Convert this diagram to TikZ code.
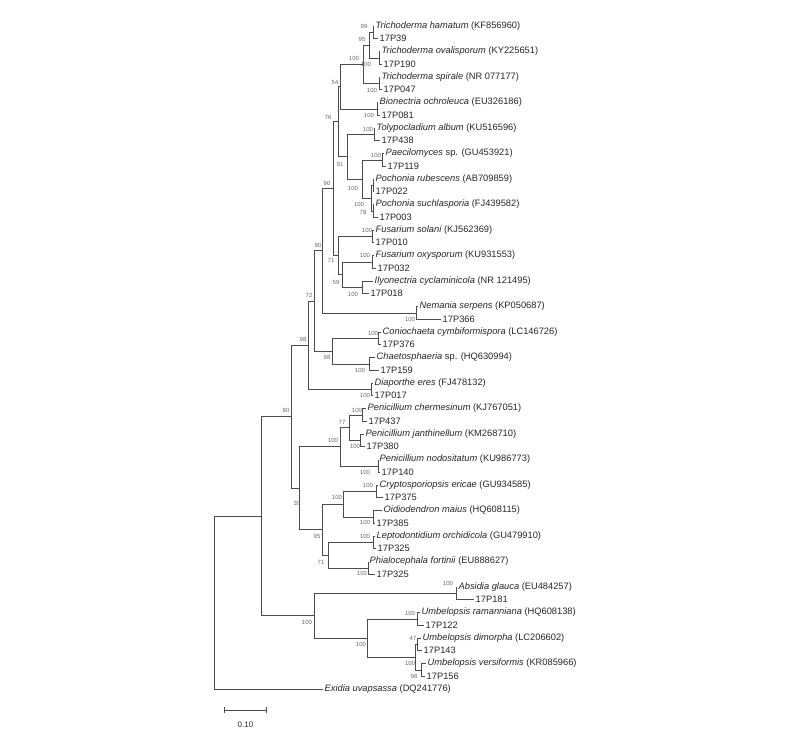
\documentclass[tikz,border=0pt]{standalone}
\usepackage{fontspec}
\setmainfont{Liberation Sans}
\begin{document}
\begin{tikzpicture}[x=1pt,y=-1pt,
  br/.style={draw=black!70,line width=0.7pt},
  leaf/.style={anchor=west,inner xsep=1.5pt,inner ysep=0pt,font=\fontsize{9.3}{10}\selectfont,text=black!85},
  bs/.style={inner sep=0pt,font=\fontsize{6}{7}\selectfont,text=black!60}]
\useasboundingbox (0,0) rectangle (800,744);
% internal coordinates
\coordinate (p1) at (373,32.4);
\coordinate (p2) at (379,57.9);
\coordinate (n95) at (369,45.1);
\coordinate (p3) at (379,83.4);
\coordinate (n100t) at (363,64.3);
\coordinate (p4) at (377,108.9);
\coordinate (n54) at (340,86.6);
\coordinate (p5) at (374,134.4);
\coordinate (p6) at (382,159.9);
\coordinate (p7) at (373,185.4);
\coordinate (p8) at (373,210.9);
\coordinate (n78) at (371,198.1);
\coordinate (nY) at (362,179);
\coordinate (n91) at (347,156.7);
\coordinate (n76) at (338,121.7);
\coordinate (p9) at (372,236.4);
\coordinate (p10) at (372,261.9);
\coordinate (p11) at (362,287.4);
\coordinate (n59) at (342,274.6);
\coordinate (n71) at (338,255.5);
\coordinate (n90a) at (333,188.6);
\coordinate (p12) at (416,312.9);
\coordinate (n90b) at (322,250.7);
\coordinate (p13) at (378,338.4);
\coordinate (p14) at (369,363.9);
\coordinate (n98c) at (332,351.1);
\coordinate (n72) at (314,300.9);
\coordinate (p15) at (371,389.4);
\coordinate (n98b) at (308,345.1);
\coordinate (p16) at (362,414.9);
\coordinate (p17) at (360,440.4);
\coordinate (n77) at (349,427.6);
\coordinate (p18) at (378,465.9);
\coordinate (nPen) at (340,446.8);
\coordinate (p19) at (376,491.4);
\coordinate (p20) at (373,516.9);
\coordinate (nCO) at (343,504.1);
\coordinate (p21) at (373,542.4);
\coordinate (p22) at (368,567.9);
\coordinate (n71b) at (328,555.1);
\coordinate (n95b) at (322,529.6);
\coordinate (n39) at (299,488.2);
\coordinate (n80) at (291,416.7);
\coordinate (p23) at (456,593.4);
\coordinate (p24) at (417,618.9);
\coordinate (p25) at (417,644.4);
\coordinate (p26) at (421,669.9);
\coordinate (nD) at (415,657.1);
\coordinate (nU) at (367,638);
\coordinate (nZ) at (314,615.7);
\coordinate (nB) at (261,516.2);
\coordinate (root) at (214,602.6);
% leaves
\node[leaf] (l0) at (374,26) {\textit{Trichoderma hamatum} (KF856960)};
\node[leaf] (l1) at (378,38.75) {17P39};
\node[leaf] (l2) at (380,51.5) {\textit{Trichoderma ovalisporum} (KY225651)};
\node[leaf] (l3) at (382,64.25) {17P190};
\node[leaf] (l4) at (380,77) {\textit{Trichoderma spirale} (NR 077177)};
\node[leaf] (l5) at (382,89.75) {17P047};
\node[leaf] (l6) at (378,102.5) {\textit{Bionectria ochroleuca} (EU326186)};
\node[leaf] (l7) at (380,115.25) {17P081};
\node[leaf] (l8) at (375,128) {\textit{Tolypocladium album} (KU516596)};
\node[leaf] (l9) at (380,140.75) {17P438};
\node[leaf] (l10) at (384,153.5) {\textit{Paecilomyces} sp. (GU453921)};
\node[leaf] (l11) at (386,166.25) {17P119};
\node[leaf] (l12) at (374,179) {\textit{Pochonia rubescens} (AB709859)};
\node[leaf] (l13) at (374,191.75) {17P022};
\node[leaf] (l14) at (374,204.5) {\textit{Pochonia suchlasporia} (FJ439582)};
\node[leaf] (l15) at (378,217.25) {17P003};
\node[leaf] (l16) at (374,230) {\textit{Fusarium solani} (KJ562369)};
\node[leaf] (l17) at (374,242.75) {17P010};
\node[leaf] (l18) at (374,255.5) {\textit{Fusarium oxysporum} (KU931553)};
\node[leaf] (l19) at (376,268.25) {17P032};
\node[leaf] (l20) at (373,281) {\textit{Ilyonectria cyclaminicola} (NR 121495)};
\node[leaf] (l21) at (369,293.75) {17P018};
\node[leaf] (l22) at (418,306.5) {\textit{Nemania serpens} (KP050687)};
\node[leaf] (l23) at (441,319.25) {17P366};
\node[leaf] (l24) at (381,332) {\textit{Coniochaeta cymbiformispora} (LC146726)};
\node[leaf] (l25) at (381,344.75) {17P376};
\node[leaf] (l26) at (375,357.5) {\textit{Chaetosphaeria} sp. (HQ630994)};
\node[leaf] (l27) at (379,370.25) {17P159};
\node[leaf] (l28) at (373,383) {\textit{Diaporthe eres} (FJ478132)};
\node[leaf] (l29) at (373,395.75) {17P017};
\node[leaf] (l30) at (366,408.5) {\textit{Penicillium chermesinum} (KJ767051)};
\node[leaf] (l31) at (367,421.25) {17P437};
\node[leaf] (l32) at (364,434) {\textit{Penicillium janthinellum} (KM268710)};
\node[leaf] (l33) at (365,446.75) {17P380};
\node[leaf] (l34) at (378,459.5) {\textit{Penicillium nodositatum} (KU986773)};
\node[leaf] (l35) at (380,472.25) {17P140};
\node[leaf] (l36) at (378,485) {\textit{Cryptosporiopsis ericae} (GU934585)};
\node[leaf] (l37) at (383,497.75) {17P375};
\node[leaf] (l38) at (382,510.5) {\textit{Oidiodendron maius} (HQ608115)};
\node[leaf] (l39) at (375,523.25) {17P385};
\node[leaf] (l40) at (375,536) {\textit{Leptodontidium orchidicola} (GU479910)};
\node[leaf] (l41) at (376,548.75) {17P325};
\node[leaf] (l42) at (368,561.5) {\textit{Phialocephala fortinii} (EU888627)};
\node[leaf] (l43) at (375,574.25) {17P325};
\node[leaf] (l44) at (457,587) {\textit{Absidia glauca} (EU484257)};
\node[leaf] (l45) at (474,599.75) {17P181};
\node[leaf] (l46) at (420,612.5) {\textit{Umbelopsis ramanniana} (HQ608138)};
\node[leaf] (l47) at (424,625.25) {17P122};
\node[leaf] (l48) at (421,638) {\textit{Umbelopsis dimorpha} (LC206602)};
\node[leaf] (l49) at (422,650.75) {17P143};
\node[leaf] (l50) at (426,663.5) {\textit{Umbelopsis versiformis} (KR085966)};
\node[leaf] (l51) at (425,676.25) {17P156};
\node[leaf] (l52) at (323,689) {\textit{Exidia uvapsassa} (DQ241776)};
% branches
\draw[br] (p1) |- (l0.west) (p1) |- (l1.west);
\draw[br] (p2) |- (l2.west) (p2) |- (l3.west);
\draw[br] (n95) |- (p1) (n95) |- (p2);
\draw[br] (p3) |- (l4.west) (p3) |- (l5.west);
\draw[br] (n100t) |- (n95) (n100t) |- (p3);
\draw[br] (p4) |- (l6.west) (p4) |- (l7.west);
\draw[br] (n54) |- (n100t) (n54) |- (p4);
\draw[br] (p5) |- (l8.west) (p5) |- (l9.west);
\draw[br] (p6) |- (l10.west) (p6) |- (l11.west);
\draw[br] (p7) |- (l12.west) (p7) |- (l13.west);
\draw[br] (p8) |- (l14.west) (p8) |- (l15.west);
\draw[br] (n78) |- (p7) (n78) |- (p8);
\draw[br] (nY) |- (p6) (nY) |- (n78);
\draw[br] (n91) |- (p5) (n91) |- (nY);
\draw[br] (n76) |- (n54) (n76) |- (n91);
\draw[br] (p9) |- (l16.west) (p9) |- (l17.west);
\draw[br] (p10) |- (l18.west) (p10) |- (l19.west);
\draw[br] (p11) |- (l20.west) (p11) |- (l21.west);
\draw[br] (n59) |- (p10) (n59) |- (p11);
\draw[br] (n71) |- (p9) (n71) |- (n59);
\draw[br] (n90a) |- (n76) (n90a) |- (n71);
\draw[br] (p12) |- (l22.west) (p12) |- (l23.west);
\draw[br] (n90b) |- (n90a) (n90b) |- (p12);
\draw[br] (p13) |- (l24.west) (p13) |- (l25.west);
\draw[br] (p14) |- (l26.west) (p14) |- (l27.west);
\draw[br] (n98c) |- (p13) (n98c) |- (p14);
\draw[br] (n72) |- (n90b) (n72) |- (n98c);
\draw[br] (p15) |- (l28.west) (p15) |- (l29.west);
\draw[br] (n98b) |- (n72) (n98b) |- (p15);
\draw[br] (p16) |- (l30.west) (p16) |- (l31.west);
\draw[br] (p17) |- (l32.west) (p17) |- (l33.west);
\draw[br] (n77) |- (p16) (n77) |- (p17);
\draw[br] (p18) |- (l34.west) (p18) |- (l35.west);
\draw[br] (nPen) |- (n77) (nPen) |- (p18);
\draw[br] (p19) |- (l36.west) (p19) |- (l37.west);
\draw[br] (p20) |- (l38.west) (p20) |- (l39.west);
\draw[br] (nCO) |- (p19) (nCO) |- (p20);
\draw[br] (p21) |- (l40.west) (p21) |- (l41.west);
\draw[br] (p22) |- (l42.west) (p22) |- (l43.west);
\draw[br] (n71b) |- (p21) (n71b) |- (p22);
\draw[br] (n95b) |- (nCO) (n95b) |- (n71b);
\draw[br] (n39) |- (nPen) (n39) |- (n95b);
\draw[br] (n80) |- (n98b) (n80) |- (n39);
\draw[br] (p23) |- (l44.west) (p23) |- (l45.west);
\draw[br] (p24) |- (l46.west) (p24) |- (l47.west);
\draw[br] (p25) |- (l48.west) (p25) |- (l49.west);
\draw[br] (p26) |- (l50.west) (p26) |- (l51.west);
\draw[br] (nD) |- (p25) (nD) |- (p26);
\draw[br] (nU) |- (p24) (nU) |- (nD);
\draw[br] (nZ) |- (p23) (nZ) |- (nU);
\draw[br] (nB) |- (n80) (nB) |- (nZ);
\draw[br] (root) |- (nB) (root) |- (l52.west);
% bootstrap values
\node[bs] (b1) at (364,26.5) {99};
\node[bs] (b2) at (362,39) {95};
\node[bs] (b3) at (366,64) {100};
\node[bs] (b4) at (354,58) {100};
\node[bs] (b5) at (372,90) {100};
\node[bs] (b6) at (335,82) {54};
\node[bs] (b7) at (369,115) {100};
\node[bs] (b8) at (368,129) {100};
\node[bs] (b9) at (376,155) {100};
\node[bs] (b10) at (353,188) {100};
\node[bs] (b11) at (359,204) {100};
\node[bs] (b12) at (363,212) {78};
\node[bs] (b13) at (340,164) {91};
\node[bs] (b14) at (328,117) {76};
\node[bs] (b15) at (367,230) {100};
\node[bs] (b16) at (365,255) {100};
\node[bs] (b17) at (353,294) {100};
\node[bs] (b18) at (336,282) {59};
\node[bs] (b19) at (331,260) {71};
\node[bs] (b20) at (327,183) {90};
\node[bs] (b21) at (410,319) {100};
\node[bs] (b22) at (318,245) {90};
\node[bs] (b23) at (373,333) {100};
\node[bs] (b24) at (360,370) {100};
\node[bs] (b25) at (327,357) {98};
\node[bs] (b26) at (309,295) {72};
\node[bs] (b27) at (365,395) {100};
\node[bs] (b28) at (303,339) {98};
\node[bs] (b29) at (357,410) {100};
\node[bs] (b30) at (355,446) {100};
\node[bs] (b31) at (342,422) {77};
\node[bs] (b32) at (365,472) {100};
\node[bs] (b33) at (333,440) {100};
\node[bs] (b34) at (368,485) {100};
\node[bs] (b35) at (365,522) {100};
\node[bs] (b36) at (337,497) {100};
\node[bs] (b37) at (365,536) {100};
\node[bs] (b38) at (362,573) {100};
\node[bs] (b39) at (321,562) {71};
\node[bs] (b40) at (317,536) {95};
\node[bs] (b41) at (297,503) {39};
\node[bs] (b42) at (286,410) {80};
\node[bs] (b43) at (448,583) {100};
\node[bs] (b44) at (410,613) {100};
\node[bs] (b45) at (413,638) {47};
\node[bs] (b46) at (410,663) {100};
\node[bs] (b47) at (414,676) {98};
\node[bs] (b48) at (361,644) {100};
\node[bs] (b49) at (307,622) {100};
% scale bar
\coordinate (s1) at (224,710);
\coordinate (s2) at (267,710);
\draw[br,|-|] (s1) -- (s2);
\node[leaf,anchor=center,font=\fontsize{8}{9}\selectfont] (slab) at (245.5,725) {0.10};
\end{tikzpicture}
\end{document}
